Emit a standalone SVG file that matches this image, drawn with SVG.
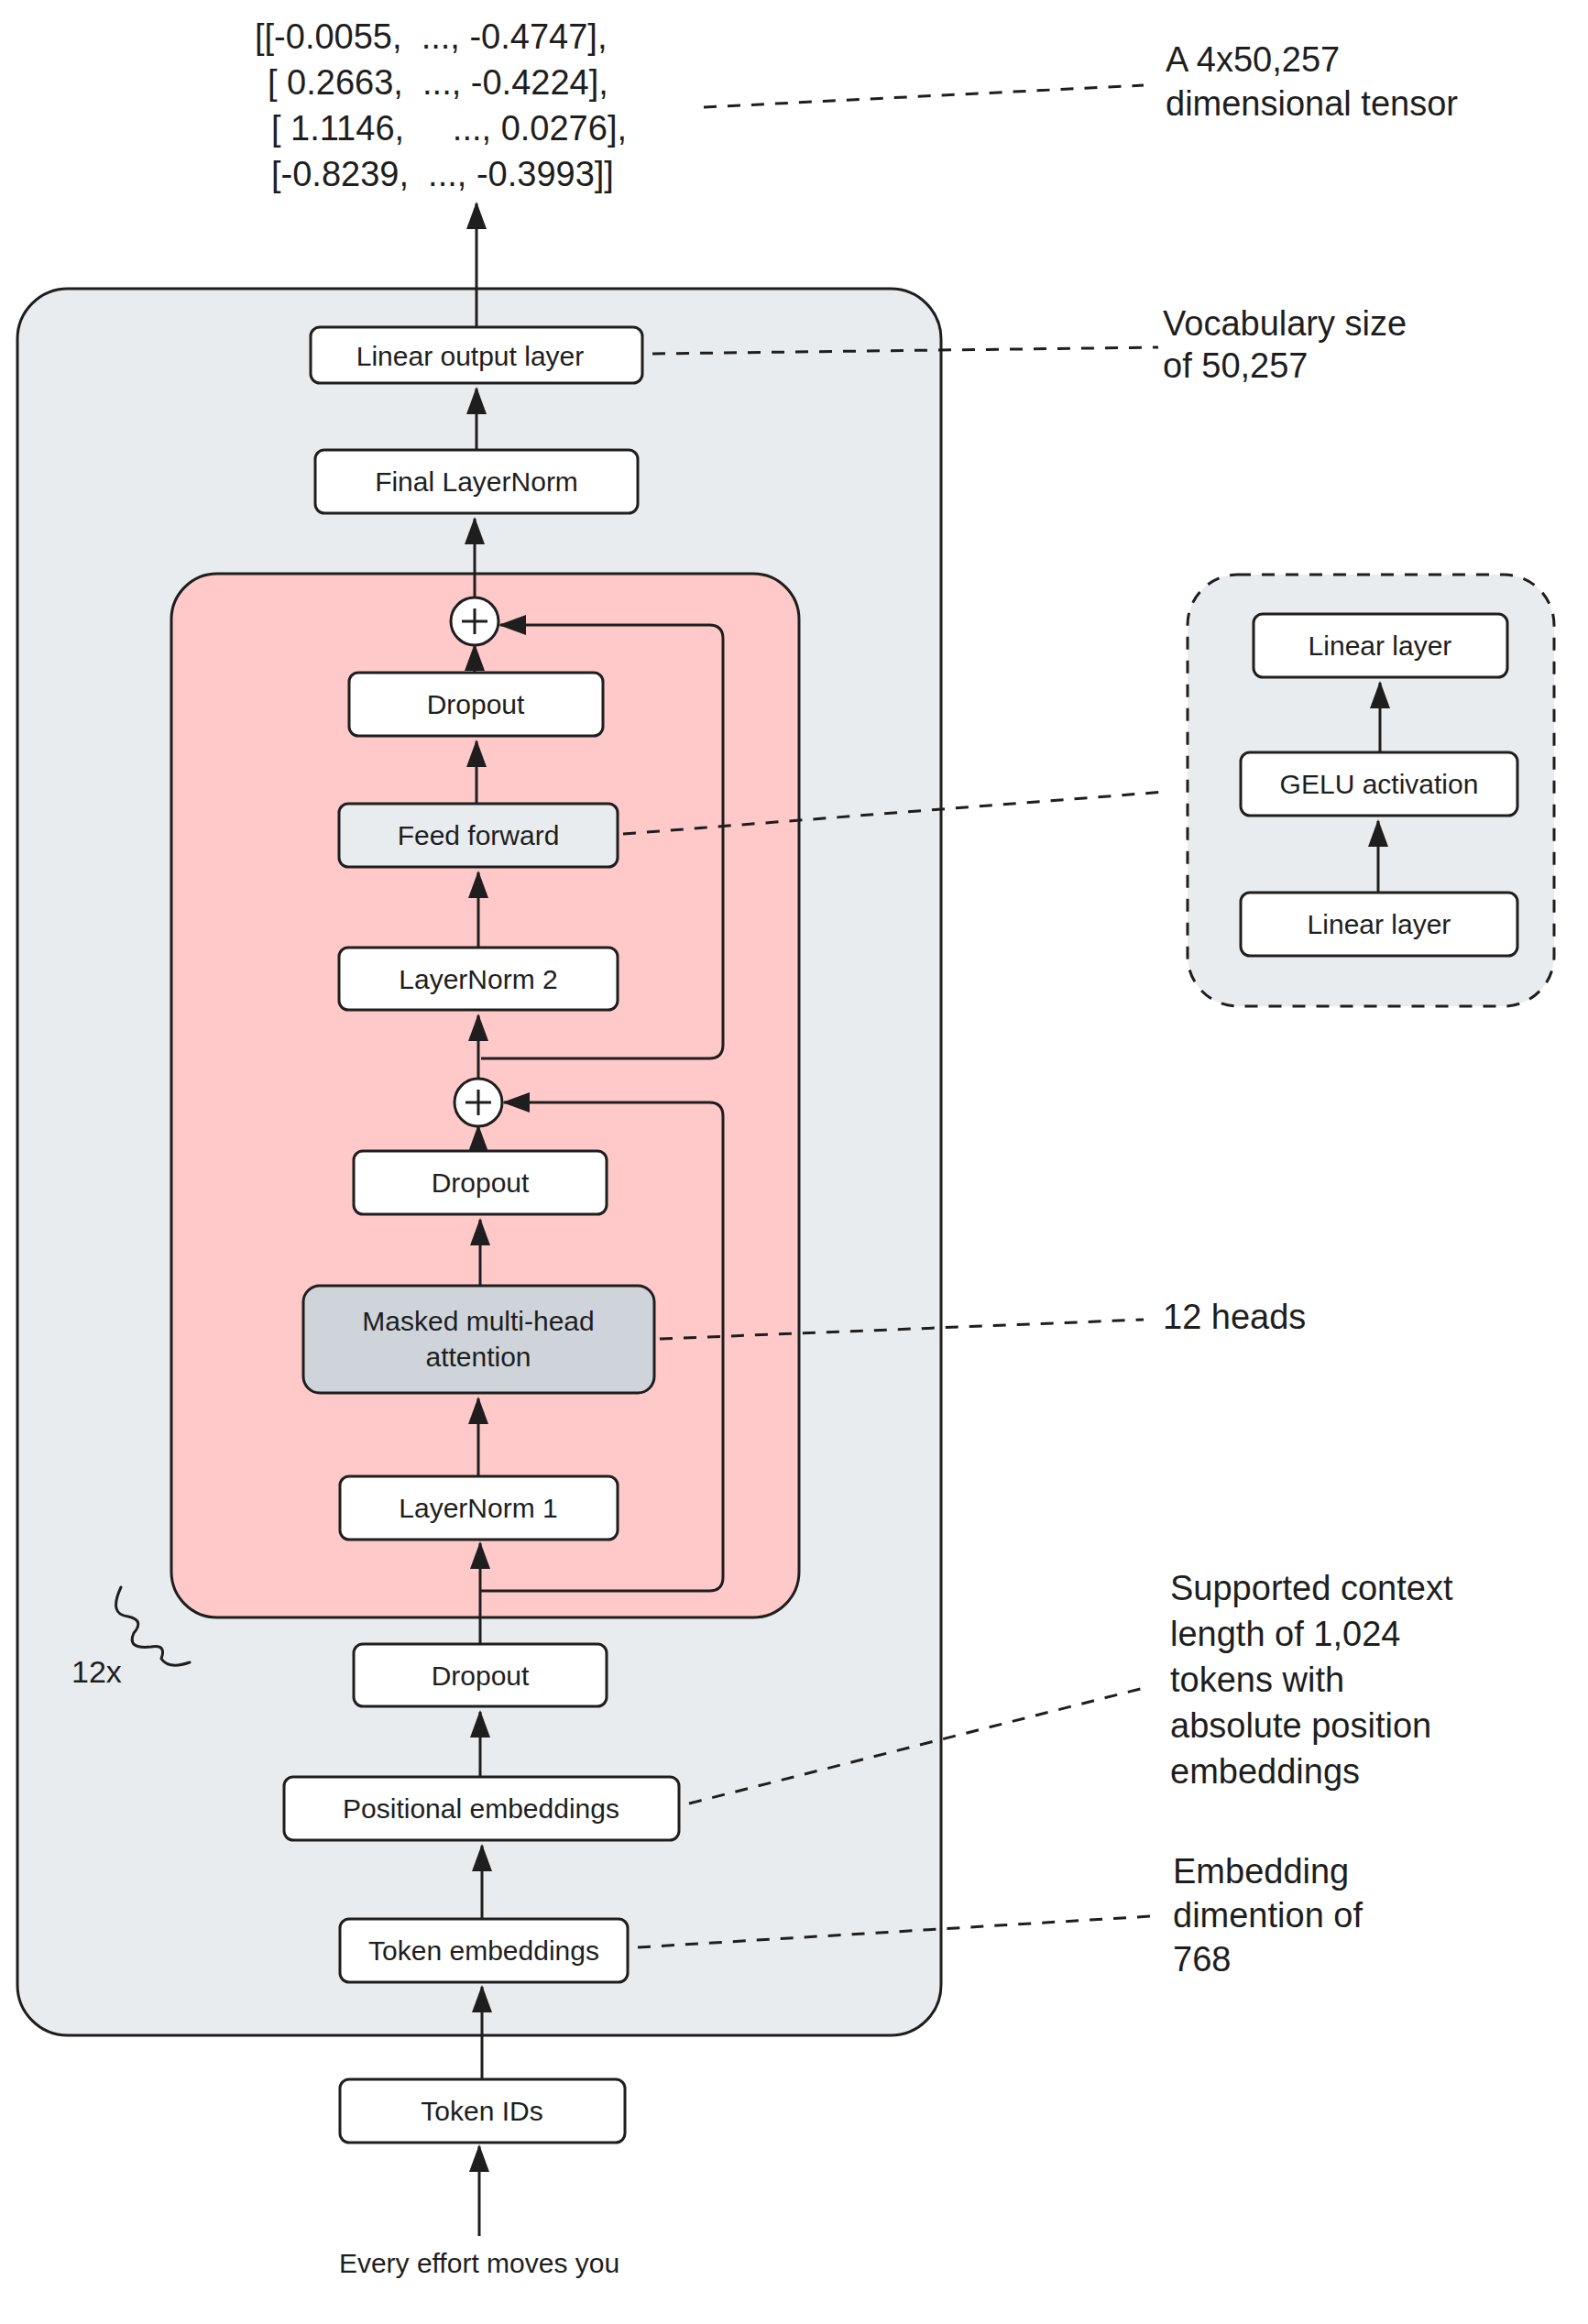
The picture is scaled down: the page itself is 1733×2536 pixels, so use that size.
<svg xmlns="http://www.w3.org/2000/svg" width="1733" height="2536" viewBox="0 0 1733 2536">
<style>
.n{fill:#fff;stroke:#1e1e1e;stroke-width:3}
.t{font-family:"Liberation Sans",sans-serif;font-size:30px;fill:#1e1e1e;text-anchor:middle;dominant-baseline:central}
.a{font-family:"Liberation Sans",sans-serif;font-size:38px;fill:#1e1e1e;white-space:pre}
.c{stroke:#1e1e1e;stroke-width:3;fill:none}
.d{stroke:#1e1e1e;stroke-width:3;fill:none;stroke-dasharray:14 12}
</style>
<defs>
<marker id="m" viewBox="0 0 30 30" refX="28" refY="15" markerWidth="30" markerHeight="30" markerUnits="userSpaceOnUse" orient="auto"><path d="M0,4 L30,15 L0,26 Z" fill="#1e1e1e"/></marker></defs>
<rect x="19" y="315" width="1008" height="1906" rx="55" fill="#e9ecef" stroke="#1e1e1e" stroke-width="3"/>
<rect x="187" y="626" width="685" height="1139" rx="50" fill="#ffc9c9" stroke="#1e1e1e" stroke-width="3"/>
<rect x="1296" y="627" width="400" height="471" rx="55" fill="#e9ecef" stroke="#1e1e1e" stroke-width="3" stroke-dasharray="14 12"/>
<g id="connectors">
<path class="c" marker-end="url(#m)" d="M523,2440V2342"/>
<path class="c" marker-end="url(#m)" d="M526,2269V2168"/>
<path class="c" marker-end="url(#m)" d="M526,2094V2014"/>
<path class="c" marker-end="url(#m)" d="M524,1939V1868"/>
<path class="c" marker-end="url(#m)" d="M524,1794V1684"/>
<path class="c" marker-end="url(#m)" d="M522,1611V1526"/>
<path class="c" marker-end="url(#m)" d="M524,1403V1331"/>
<path class="c" marker-end="url(#m)" d="M522,1256V1229"/>
<path class="c" marker-end="url(#m)" d="M522,1177V1108"/>
<path class="c" marker-end="url(#m)" d="M522,1034V952"/>
<path class="c" marker-end="url(#m)" d="M520,877V809"/>
<path class="c" marker-end="url(#m)" d="M518,734V704"/>
<path class="c" marker-end="url(#m)" d="M518,652V566"/>
<path class="c" marker-end="url(#m)" d="M520,491V424"/>
<path class="c" marker-end="url(#m)" d="M520,357V222"/>
<path class="c" marker-end="url(#m)" d="M1506,821V745"/>
<path class="c" marker-end="url(#m)" d="M1504,974V896"/>
<path class="c" marker-end="url(#m)" d="M525,1155H774Q789,1155 789,1140V697Q789,682 774,682H546"/>
<path class="c" marker-end="url(#m)" d="M525,1736H774Q789,1736 789,1721V1218Q789,1203 774,1203H550"/>
<path class="d" d="M768,117L1248,93"/>
<path class="d" d="M712,386L1264,379"/>
<path class="d" d="M680,910L1272,864"/>
<path class="d" d="M720,1461L1248,1440"/>
<path class="d" d="M752,1968L1256,1840"/>
<path class="d" d="M696,2125L1256,2091"/>
</g>
<g id="n1"><rect class="n" x="339" y="357" width="362" height="61" rx="10"/><text class="t" x="513" y="388">Linear output layer</text></g>
<g id="n2"><rect class="n" x="344" y="491" width="352" height="69" rx="10"/><text class="t" x="520" y="525">Final LayerNorm</text></g>
<g id="p1"><circle class="n" cx="518" cy="678" r="26"/><path class="c" stroke-width="6" d="M504,678H532M518,664V692"/></g>
<g id="n3"><rect class="n" x="381" y="734" width="277" height="69" rx="10"/><text class="t" x="519" y="768">Dropout</text></g>
<g id="n4"><rect class="n" x="370" y="877" width="304" height="69" rx="10" style="fill:#e9ecef"/><text class="t" x="522" y="911">Feed forward</text></g>
<g id="n5"><rect class="n" x="370" y="1034" width="304" height="68" rx="10"/><text class="t" x="522" y="1068">LayerNorm 2</text></g>
<g id="p2"><circle class="n" cx="522" cy="1203" r="26"/><path class="c" stroke-width="6" d="M508,1203H536M522,1189V1217"/></g>
<g id="n6"><rect class="n" x="386" y="1256" width="276" height="69" rx="10"/><text class="t" x="524" y="1290">Dropout</text></g>
<g id="n7"><rect class="n" x="331" y="1403" width="383" height="117" rx="18" style="fill:#ced4da"/><text class="t" x="522" y="1441">Masked multi-head</text><text class="t" x="522" y="1480">attention</text></g>
<g id="n8"><rect class="n" x="371" y="1611" width="303" height="69" rx="10"/><text class="t" x="522" y="1645">LayerNorm 1</text></g>
<g id="n9"><rect class="n" x="386" y="1794" width="276" height="68" rx="10"/><text class="t" x="524" y="1828">Dropout</text></g>
<g id="n10"><rect class="n" x="310" y="1939" width="431" height="69" rx="10"/><text class="t" x="525" y="1973">Positional embeddings</text></g>
<g id="n11"><rect class="n" x="371" y="2094" width="314" height="69" rx="10"/><text class="t" x="528" y="2128">Token embeddings</text></g>
<g id="n12"><rect class="n" x="371" y="2269" width="311" height="69" rx="10"/><text class="t" x="526" y="2303">Token IDs</text></g>
<g id="r1"><rect class="n" x="1368" y="670" width="277" height="69" rx="10"/><text class="t" x="1506" y="704">Linear layer</text></g>
<g id="r2"><rect class="n" x="1354" y="821" width="302" height="69" rx="10"/><text class="t" x="1505" y="855">GELU activation</text></g>
<g id="r3"><rect class="n" x="1354" y="974" width="302" height="69" rx="10"/><text class="t" x="1505" y="1008">Linear layer</text></g>
<text class="t" x="523" y="2469">Every effort moves you</text>
<g class="a"><text x="278" y="53" xml:space="preserve">[[-0.0055,  ..., -0.4747],</text><text x="292" y="103" xml:space="preserve">[ 0.2663,  ..., -0.4224],</text><text x="296" y="153" xml:space="preserve">[ 1.1146,     ..., 0.0276],</text><text x="296" y="203" xml:space="preserve">[-0.8239,  ..., -0.3993]]</text>
<text x="1272" y="78">A 4x50,257</text><text x="1272" y="126">dimensional tensor</text>
<text x="1269" y="366">Vocabulary size</text><text x="1269" y="412">of 50,257</text>
<text x="1269" y="1450">12 heads</text>
<text x="1277" y="1746">Supported context</text><text x="1277" y="1796">length of 1,024</text><text x="1277" y="1846">tokens with</text><text x="1277" y="1896">absolute position</text><text x="1277" y="1946">embeddings</text>
<text x="1280" y="2055">Embedding</text><text x="1280" y="2103">dimention of</text><text x="1280" y="2151">768</text>
<text x="78" y="1836" style="font-size:34px">12x</text></g>
<path class="c" stroke-width="7" stroke-linecap="round" d="M132,1732Q118,1762 140,1764Q158,1768 146,1782Q138,1800 165,1797Q182,1794 176,1810Q184,1822 207,1814"/>
</svg>
